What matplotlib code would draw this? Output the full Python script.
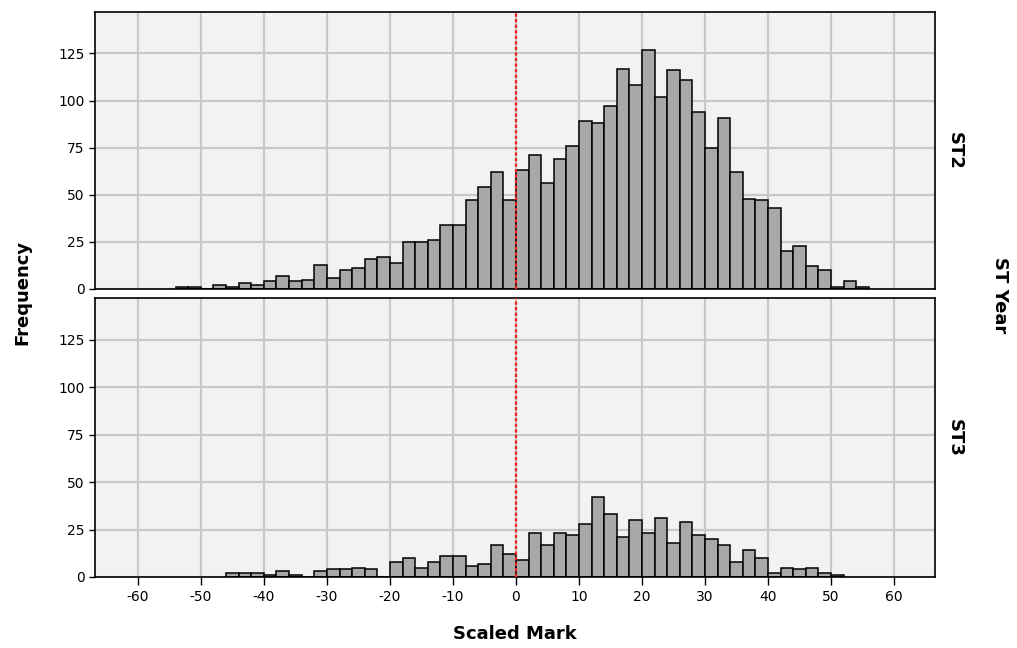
import numpy as np
import matplotlib
matplotlib.use("Agg")
import matplotlib.pyplot as plt

plt.rcParams["axes.unicode_minus"] = False

# bin left edges (width 2) and counts per panel
st2_edges = list(range(-54, 56, 2))
st2_counts = [1, 1, 0, 2, 1, 3, 2, 4, 7, 4, 5, 13, 6, 10, 11, 16, 17, 14, 25, 25,
              26, 34, 34, 47, 54, 62, 47, 63, 71, 56, 69, 76, 89, 88, 97, 117, 108,
              127, 102, 116, 111, 94, 75, 91, 62, 48, 47, 43, 20, 23, 12, 10, 1, 4, 1]

st3_edges = list(range(-46, 52, 2))
st3_counts = [2, 2, 2, 1, 3, 1, 0, 3, 4, 4, 5, 4, 0, 8, 10, 5, 8, 11, 11, 6, 7, 17,
              12, 9, 23, 17, 23, 22, 28, 42, 33, 21, 30, 23, 31, 18, 29, 22, 20, 17,
              8, 14, 10, 2, 5, 4, 5, 2, 1]

panel_names = ["ST2", "ST3"]
x_ticks = list(range(-60, 70, 10))
y_ticks = [0, 25, 50, 75, 100, 125]

W, H = 1017, 648
fig = plt.figure(figsize=(W / 100, H / 100), dpi=100)

left, right = 95 / W, 935 / W
panels = [(12, 289), (298, 577)]
data = [(st2_edges, st2_counts), (st3_edges, st3_counts)]

for i, ((top, bot), (edges, counts)) in enumerate(zip(panels, data)):
    ax = fig.add_axes([left, 1 - bot / H, right - left, (bot - top) / H])
    ax.set_facecolor("#f2f2f2")
    ax.set_axisbelow(True)
    ax.grid(True, color="#c8c8c8", linewidth=1.6)
    ax.bar(edges, counts, width=2, align="edge", color="#a8a8a8",
           edgecolor="black", linewidth=1.1, zorder=2)
    ax.axvline(0, color="#f02020", linestyle=(0, (1.5, 1.0)), linewidth=1.6, zorder=3)
    ax.set_xlim(-66.8, 66.5)
    ax.set_ylim(0, 147)
    ax.set_yticks(y_ticks)
    ax.set_xticks(x_ticks)
    ax.tick_params(axis="y", labelsize=10, length=4, width=1, direction="out")
    for s in ax.spines.values():
        s.set_linewidth(1.2)
    if i == 0:
        ax.tick_params(axis="x", length=0, labelbottom=False)
    else:
        ax.tick_params(axis="x", labelsize=10, length=6, width=1, direction="out")
    fig.text(955 / W, 1 - (top + bot) / 2 / H, panel_names[i], rotation=-90,
             ha="center", va="center", fontsize=13, fontweight="bold")

fig.text(1000 / W, 1 - 295 / H, "ST Year", rotation=-90, ha="center", va="center",
         fontsize=13, fontweight="bold")
fig.text(22 / W, 1 - 292 / H, "Frequency", rotation=90, ha="center", va="center",
         fontsize=13, fontweight="bold")
fig.text(515 / W, 1 - 634 / H, "Scaled Mark", ha="center", va="center",
         fontsize=13, fontweight="bold")

fig.savefig("out.png", dpi=100)
